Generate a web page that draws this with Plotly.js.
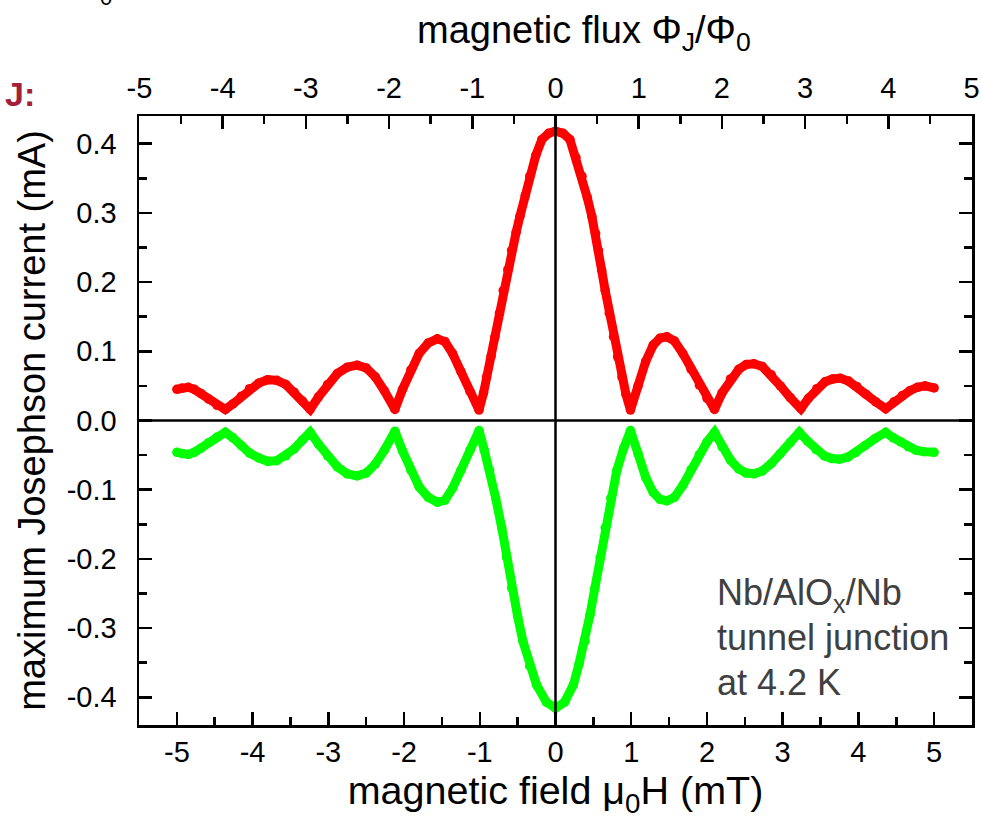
<!DOCTYPE html>
<html>
<head>
<meta charset="utf-8">
<script src="https://cdn.plot.ly/plotly-3.0.1.min.js"></script>
<style>html,body{margin:0;padding:0;background:#fff;}#chart{width:982px;height:828px;}</style>
</head>
<body>
<div id="chart"></div>
<script>
// magnetic field (mT) and maximum Josephson current (mA), positive branch
const fieldPos = [-5.0,-4.93,-4.85,-4.77,-4.68,-4.58,-4.47,-4.36,-4.26,-4.15,-4.04,-3.92,-3.80,-3.68,-3.56,-3.45,-3.34,-3.24,-3.13,-3.01,-2.88,-2.75,-2.62,-2.50,-2.38,-2.26,-2.12,-2.02,-1.91,-1.80,-1.68,-1.56,-1.46,-1.36,-1.25,-1.13,-1.01,
  -0.95,-0.91,-0.85,-0.80,-0.74,-0.69,-0.63,-0.58,-0.52,-0.47,-0.40,-0.34,-0.26,-0.18,-0.09,0,0.10,0.19,0.27,0.35,0.42,0.48,0.53,0.567,0.61,0.656,0.71,0.766,0.82,0.877,0.93,0.99,
  1.09,1.19,1.29,1.38,1.47,1.57,1.68,1.79,1.90,2.00,2.10,2.20,2.31,2.42,2.52,2.62,2.73,2.85,2.97,3.10,3.24,3.34,3.45,3.56,3.66,3.76,3.87,3.98,4.10,4.23,4.36,4.47,4.58,4.68,4.78,4.88,5.0];
const currentPos = [0.045,0.047,0.048,0.045,0.039,0.031,0.022,0.016,0.024,0.035,0.046,0.054,0.059,0.058,0.052,0.041,0.028,0.016,0.034,0.052,0.068,0.077,0.080,0.076,0.063,0.043,0.016,0.045,0.073,0.097,0.112,0.118,0.114,0.097,0.071,0.042,0.015,
  0.040,0.063,0.093,0.121,0.155,0.188,0.218,0.246,0.272,0.295,0.325,0.353,0.383,0.406,0.415,0.418,0.415,0.406,0.380,0.353,0.322,0.295,0.270,0.246,0.217,0.188,0.155,0.121,0.092,0.063,0.038,0.015,
  0.050,0.085,0.109,0.119,0.121,0.115,0.097,0.074,0.051,0.032,0.016,0.040,0.060,0.074,0.081,0.082,0.078,0.066,0.050,0.033,0.017,0.032,0.046,0.056,0.060,0.061,0.057,0.049,0.038,0.027,0.017,0.027,0.036,0.043,0.048,0.050,0.047];
// negative branch
const fieldNeg = [-5.0,-4.93,-4.85,-4.77,-4.68,-4.58,-4.47,-4.36,-4.26,-4.15,-4.04,-3.92,-3.80,-3.68,-3.56,-3.45,-3.34,-3.24,-3.13,-3.01,-2.88,-2.75,-2.62,-2.50,-2.38,-2.26,-2.12,-2.02,-1.91,-1.80,-1.68,-1.56,-1.46,-1.36,-1.25,-1.13,-1.01,
  -0.94,-0.87,-0.79,-0.71,-0.645,-0.58,-0.50,-0.43,-0.34,-0.25,-0.12,0,0.12,0.236,0.31,0.39,0.455,0.52,0.59,0.656,0.73,0.81,0.90,0.99,
  1.09,1.19,1.29,1.38,1.47,1.57,1.68,1.79,1.90,2.00,2.10,2.20,2.31,2.42,2.52,2.62,2.73,2.85,2.97,3.10,3.22,3.33,3.44,3.55,3.65,3.75,3.86,3.97,4.09,4.22,4.36,4.46,4.56,4.66,4.76,4.86,5.0];
const currentNeg = [-0.046,-0.048,-0.049,-0.046,-0.040,-0.032,-0.024,-0.017,-0.025,-0.036,-0.047,-0.054,-0.059,-0.058,-0.051,-0.041,-0.028,-0.017,-0.034,-0.051,-0.067,-0.077,-0.080,-0.076,-0.063,-0.043,-0.0155,-0.044,-0.072,-0.096,-0.111,-0.118,-0.115,-0.098,-0.072,-0.043,-0.0145,
  -0.043,-0.072,-0.112,-0.155,-0.198,-0.242,-0.283,-0.319,-0.355,-0.382,-0.407,-0.4155,-0.407,-0.382,-0.352,-0.319,-0.281,-0.242,-0.198,-0.155,-0.112,-0.072,-0.040,-0.0145,
  -0.048,-0.082,-0.104,-0.114,-0.116,-0.111,-0.094,-0.071,-0.049,-0.031,-0.017,-0.038,-0.057,-0.070,-0.076,-0.077,-0.073,-0.062,-0.048,-0.032,-0.017,-0.030,-0.042,-0.051,-0.055,-0.056,-0.053,-0.046,-0.036,-0.026,-0.017,-0.025,-0.031,-0.038,-0.043,-0.045,-0.046];

const fieldTicks = [-5,-4,-3,-2,-1,0,1,2,3,4,5];
const fieldTickText = ['-5','-4','-3','-2','-1','0','1','2','3','4','5'];
const fieldMinor = [-5.5,-4.5,-3.5,-2.5,-1.5,-0.5,0.5,1.5,2.5,3.5,4.5,5.5];
const fluxTicks = [-5,-4,-3,-2,-1,0,1,2,3,4,5];
const fluxTickText = ['-5','-4','-3','-2','-1','0','1','2','3','4','5'];
const fluxMinor = [-4.5,-3.5,-2.5,-1.5,-0.5,0.5,1.5,2.5,3.5,4.5];
const currentTicks = [-0.4,-0.3,-0.2,-0.1,0,0.1,0.2,0.3,0.4];
const currentTickText = ['-0.4','-0.3','-0.2','-0.1','0.0','0.1','0.2','0.3','0.4'];
const currentMinor = [-0.35,-0.25,-0.15,-0.05,0.05,0.15,0.25,0.35];
const noteLines = ['Nb/AlO<sub>x</sub>/Nb', 'tunnel junction', 'at 4.2 K'];

const FONT = 'Liberation Sans, Arial, sans-serif';

const traces = [
  {x: fieldPos, y: currentPos, type: 'scatter', mode: 'lines+markers',
   line: {color: '#ff0000', width: 9}, marker: {color: '#ff0000', size: 9.5},
   hoverinfo: 'skip', showlegend: false},
  {x: fieldNeg, y: currentNeg, type: 'scatter', mode: 'lines+markers',
   line: {color: '#00ff00', width: 9}, marker: {color: '#00ff00', size: 9.5},
   hoverinfo: 'skip', showlegend: false},
  // carries the top flux axis (no visible marks)
  {x: fluxTicks, y: fluxTicks.map(() => null), xaxis: 'x2', yaxis: 'y', type: 'scatter', mode: 'markers',
   marker: {opacity: 0}, hoverinfo: 'skip', showlegend: false}
];

const noteY = [0.2135, 0.143, 0.0705];
const noteAnn = noteLines.map((t, i) => ({
  xref: 'paper', yref: 'paper', x: 0.6915, y: noteY[i], xanchor: 'left', yanchor: 'middle', align: 'left', showarrow: false,
  text: t, font: {family: FONT, size: 36, color: '#404040'}
}));

const layout = {
  width: 982, height: 828,
  margin: {l: 139, r: 10, t: 116, b: 103, pad: 0},
  paper_bgcolor: '#ffffff', plot_bgcolor: '#ffffff',
  font: {family: FONT, color: '#000000', size: 29},
  showlegend: false,
  xaxis: {
    range: [-5.5, 5.5], tickmode: 'array', tickvals: fieldTicks, ticktext: fieldTickText,
    ticks: 'inside', ticklen: 13, tickwidth: 2.5, tickcolor: '#000',
    showline: true, linewidth: 2.5, linecolor: '#000', mirror: false,
    showgrid: false, zeroline: false,
    tickfont: {family: FONT, size: 29, color: '#000'},
    ticklabelstandoff: 0,
    minor: {tickmode: 'array', tickvals: fieldMinor, ticks: 'inside', ticklen: 8, tickwidth: 2.5, tickcolor: '#000', showgrid: false},
    title: {text: 'magnetic field μ<sub>0</sub>H (mT)', font: {family: FONT, size: 39.5, color: '#000'}, standoff: 6}
  },
  xaxis2: {
    overlaying: 'x', side: 'top', anchor: 'y',
    range: [-5.005, 5.005], tickmode: 'array', tickvals: fluxTicks, ticktext: fluxTickText,
    ticks: 'inside', ticklen: 13, tickwidth: 2.5, tickcolor: '#000',
    showline: true, linewidth: 2.5, linecolor: '#000',
    showgrid: false, zeroline: false,
    tickfont: {family: FONT, size: 29, color: '#000'},
    ticklabelstandoff: 4,
    minor: {tickmode: 'array', tickvals: fluxMinor, ticks: 'inside', ticklen: 8, tickwidth: 2.5, tickcolor: '#000', showgrid: false}
  },
  yaxis: {
    range: [-0.44, 0.44], tickmode: 'array', tickvals: currentTicks, ticktext: currentTickText,
    ticks: 'inside', ticklen: 13, tickwidth: 2.5, tickcolor: '#000',
    showline: true, linewidth: 2.5, linecolor: '#000', mirror: 'ticks',
    showgrid: false, zeroline: false,
    tickfont: {family: FONT, size: 29, color: '#000'},
    ticklabelstandoff: 14,
    minor: {tickmode: 'array', tickvals: currentMinor, ticks: 'inside', ticklen: 8, tickwidth: 2.5, tickcolor: '#000', showgrid: false},
    title: {text: 'maximum Josephson current (mA)', font: {family: FONT, size: 38, color: '#000'}, standoff: 10}
  },
  shapes: [
    {type: 'line', xref: 'x', yref: 'paper', x0: 0, x1: 0, y0: 0, y1: 1, layer: 'above', line: {color: '#000', width: 2.5}},
    {type: 'line', xref: 'paper', yref: 'y', x0: 0, x1: 1, y0: 0, y1: 0, layer: 'above', line: {color: '#000', width: 2.5}}
  ],
  annotations: noteAnn.concat([
    {xref: 'paper', yref: 'paper', x: 0.3313, y: 1.136, xanchor: 'left', yanchor: 'middle', showarrow: false,
     text: 'magnetic flux Φ<sub>J</sub>/Φ<sub>0</sub>', font: {family: FONT, size: 38, color: '#000'}},
    {xref: 'paper', yref: 'paper', x: -0.1224, y: 1.036, xanchor: 'right', yanchor: 'middle', showarrow: false,
     text: '<b>J:</b>', font: {family: FONT, size: 34, color: '#a3203b'}},
    {xref: 'paper', yref: 'paper', x: -0.0396, y: 1.195, xanchor: 'center', yanchor: 'middle', showarrow: false,
     text: '0', font: {family: FONT, size: 22, color: '#000'}}
  ])
};

Plotly.newPlot('chart', traces, layout, {staticPlot: true, displayModeBar: false});
</script>
</body>
</html>
